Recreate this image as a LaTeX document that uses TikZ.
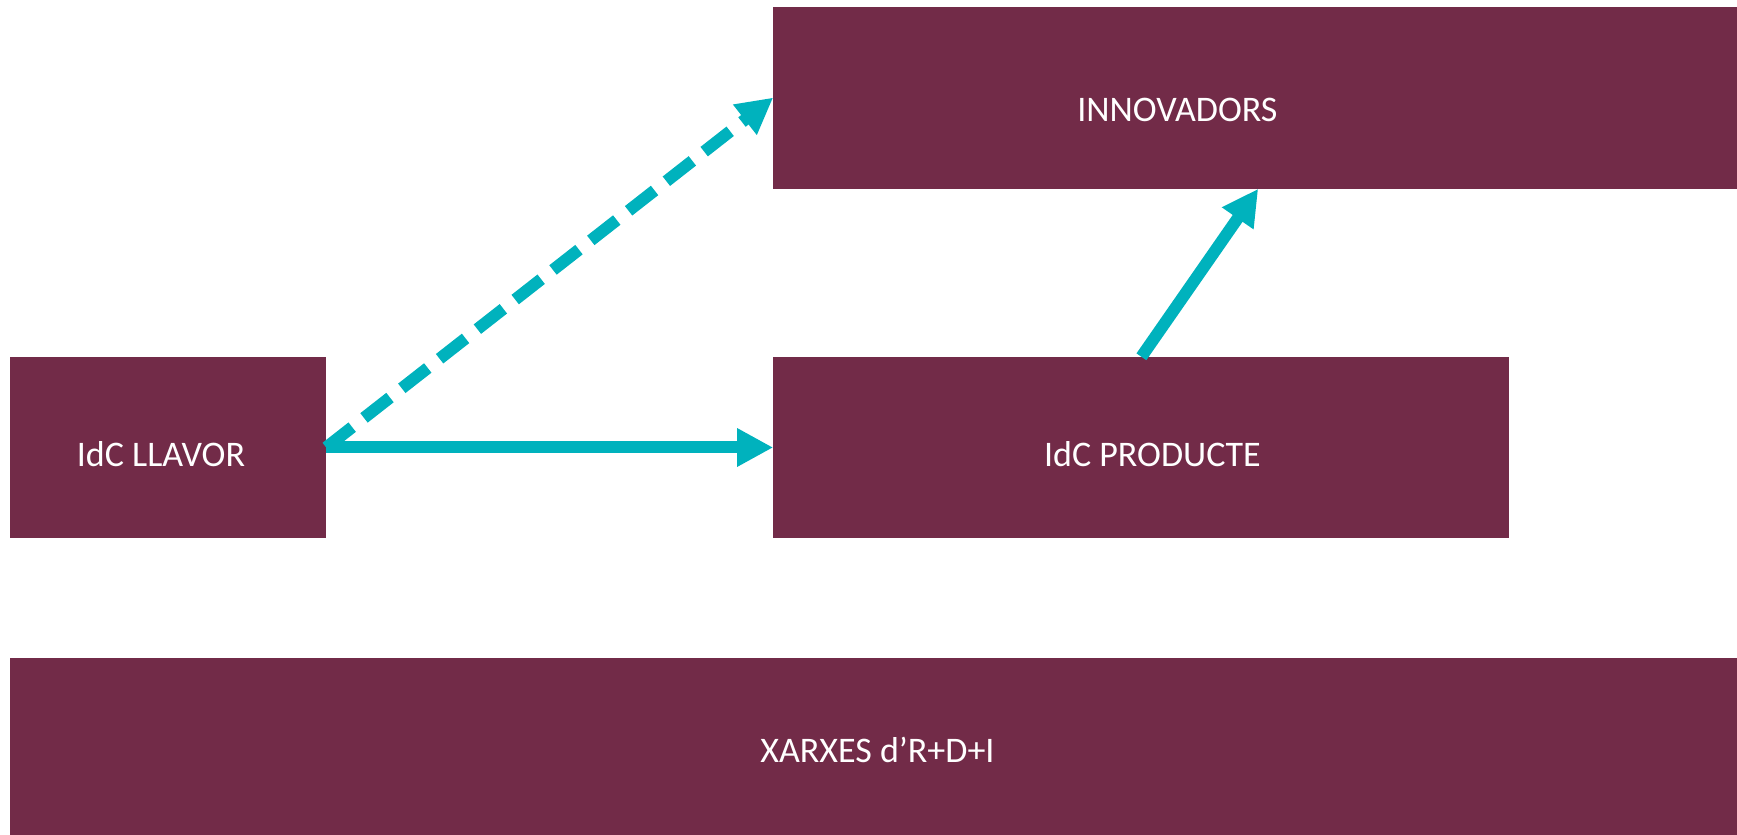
\documentclass[tikz,border=0pt]{standalone}
\usepackage{fontspec}
\setmainfont{Carlito}
\usetikzlibrary{arrows.meta,positioning,calc}
\definecolor{wine}{RGB}{114,43,72}
\definecolor{teal}{RGB}{0,178,189}

\begin{document}
\begin{tikzpicture}[
		x=1pt,y=1pt,
		box/.style={fill=wine,draw=none,inner sep=0pt},
		lab/.style={text=white,font=\fontsize{36}{40}\selectfont},
		arr/.style={-{Triangle[length=36pt,width=36pt]},draw=teal,line width=12pt},
		dasharr/.style={arr,dash pattern=on 33pt off 15pt}
		]
		
		% --- page frame
		\useasboundingbox (0,0) rectangle (1737,835);
		
		% --- The four boxes (text set a bit off-centre, as in the slide)
		\node[box,minimum width=316,minimum height=181,
		label={[lab,xshift=-7pt,yshift=-7pt]center:IdC LLAVOR}] (llavor) at (168,387.5) {};
		\node[box,minimum width=736,minimum height=181,right=447pt of llavor,
		label={[lab,xshift=11pt,yshift=-7pt]center:IdC PRODUCTE}] (prod) {};
		\node[box,minimum width=964,minimum height=182,above=168pt of prod.north west,anchor=south west,
		label={[lab,xshift=-78pt,yshift=-12pt]center:INNOVADORS}] (innov) {};
		\node[box,minimum width=1727,minimum height=177,below=120pt of llavor.south west,anchor=north west,
		label={[lab,xshift=4pt,yshift=-3pt]center:XARXES d’R+D+I}] (xarxes) {};
		
		% --- Connectors
		\draw[arr] (llavor.east) -- (prod.west);
		\draw[dasharr] (llavor.east) -- (innov.west);
		\coordinate (hit) at ($(innov.south west)+(485,0)$);
		\draw[arr] (prod.north) -- (hit);
		
	\end{tikzpicture}
\end{document}
